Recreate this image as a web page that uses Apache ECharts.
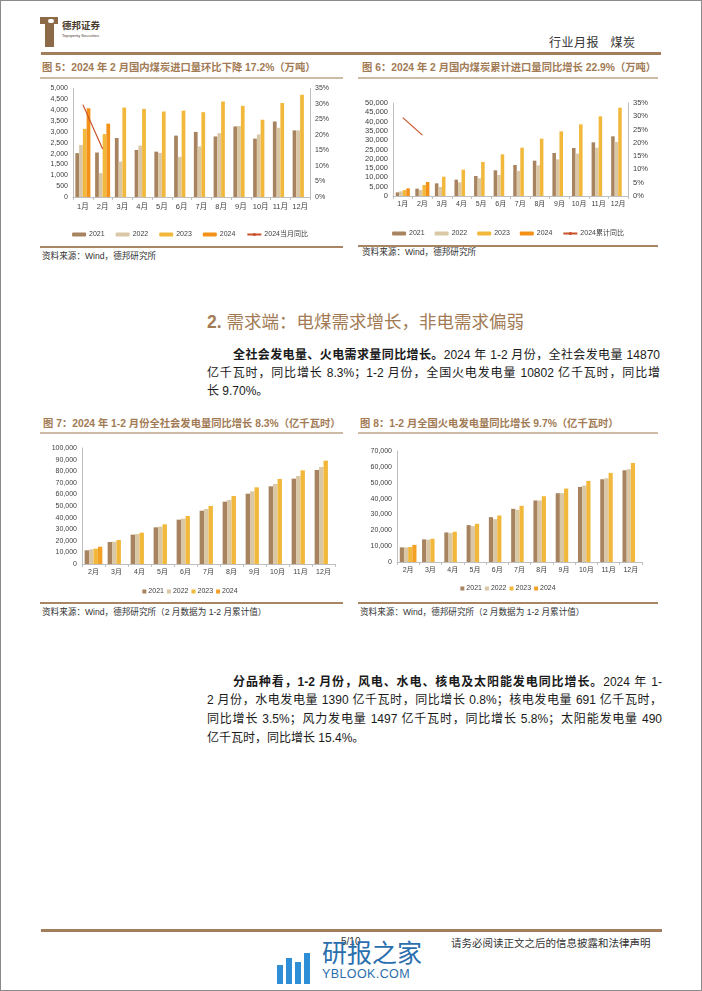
<!DOCTYPE html>
<html>
<head>
<meta charset="utf-8">
<script src="https://cdn.jsdelivr.net/npm/echarts@6/dist/echarts.min.js"></script>
<style>
body { margin: 0; width: 702px; height: 991px; position: relative; overflow: hidden; background: #fff;
       font-family: "Liberation Sans", "Noto Sans CJK SC", sans-serif; color: #1a1a1a; }
.abs { position: absolute; }
.frame { left: 0; top: 0; width: 702px; height: 991px; box-sizing: border-box; border: 1px solid #8a8a8a; }
.ttl { font-size: 10.3px; line-height: 14px; font-weight: bold; color: #a27b55; white-space: nowrap; }
.rule { height: 2px; background: #cdbba6; }
.srcrule { height: 1.5px; background: #a88664; }
.src { font-size: 8.6px; line-height: 12px; color: #333; white-space: nowrap; }
.ln { font-size: 12px; line-height: 18px; height: 18px; overflow: hidden; text-align: justify; text-align-last: justify; }
.ln.last { text-align: left; text-align-last: left; }
.hrule { height: 2.5px; background: #a47d5c; }
</style>
</head>
<body>
<div class="abs frame"></div>

<!-- header -->
<div class="abs" style="left:40px;top:17px;width:18px;height:7px;background:#8c6a48"></div>
<div class="abs" style="left:45px;top:24px;width:9px;height:23px;background:#8c6a48"></div>
<div class="abs" style="left:48px;top:19px;width:6px;height:4px;background:#fff;border-radius:2px"></div>
<div class="abs" style="left:62px;top:20px;font-size:9.5px;line-height:12px;font-weight:bold;color:#4a3a2c;white-space:nowrap">德邦证券</div>
<div class="abs" style="left:62px;top:33px;font-size:4px;line-height:5px;color:#4a3a2c;white-space:nowrap">Topsperity Securities</div>
<div class="abs" style="left:549px;top:36px;font-size:12px;line-height:14px;color:#333;white-space:nowrap;letter-spacing:0.5px">行业月报&nbsp;&nbsp;&nbsp;煤炭</div>
<div class="abs hrule" style="left:41px;top:52px;width:620px"></div>

<!-- figure 5 / 6 titles -->
<div class="abs ttl" style="left:42px;top:61px">图 5：2024 年 2 月国内煤炭进口量环比下降 17.2%（万吨）</div>
<div class="abs rule" style="left:40px;top:77px;width:303px"></div>
<div class="abs ttl" style="left:362px;top:61px">图 6：2024 年 2 月国内煤炭累计进口量同比增长 22.9%（万吨）</div>
<div class="abs rule" style="left:358px;top:77px;width:300px"></div>

<div id="fig5" class="abs" style="left:30px;top:82px;width:320px;height:160px"></div>
<div id="fig6" class="abs" style="left:358px;top:82px;width:300px;height:160px"></div>

<div class="abs srcrule" style="left:40px;top:246px;width:303px"></div>
<div class="abs src" style="left:42px;top:250px">资料来源：Wind，德邦研究所</div>
<div class="abs srcrule" style="left:358px;top:245px;width:300px"></div>
<div class="abs src" style="left:362px;top:246px">资料来源：Wind，德邦研究所</div>

<!-- section -->
<div class="abs" style="left:207px;top:309px;font-size:17.5px;line-height:26px;color:#a27b55;white-space:nowrap"><b>2.</b> 需求端：电煤需求增长，非电需求偏弱</div>

<div class="abs ln" style="left:233px;top:346px;width:427px"><b>全社会发电量、火电需求量同比增长。</b>2024 年 1-2 月份，全社会发电量 14870</div>
<div class="abs ln" style="left:207px;top:364px;width:453px">亿千瓦时，同比增长 8.3%；1-2 月份，全国火电发电量 10802 亿千瓦时，同比增</div>
<div class="abs ln last" style="left:207px;top:382px;width:453px">长 9.70%。</div>

<!-- figure 7 / 8 titles -->
<div class="abs ttl" style="left:43px;top:417px">图 7：2024 年 1-2 月份全社会发电量同比增长 8.3%（亿千瓦时）</div>
<div class="abs rule" style="left:40px;top:432px;width:303px"></div>
<div class="abs ttl" style="left:360px;top:417px">图 8：1-2 月全国火电发电量同比增长 9.7%（亿千瓦时）</div>
<div class="abs rule" style="left:358px;top:432px;width:300px"></div>

<div id="fig7" class="abs" style="left:30px;top:438px;width:320px;height:160px"></div>
<div id="fig8" class="abs" style="left:358px;top:438px;width:300px;height:160px"></div>

<div class="abs srcrule" style="left:40px;top:602px;width:303px"></div>
<div class="abs src" style="left:42px;top:606px">资料来源：Wind，德邦研究所（2 月数据为 1-2 月累计值）</div>
<div class="abs srcrule" style="left:358px;top:602px;width:300px"></div>
<div class="abs src" style="left:360px;top:606px">资料来源：Wind，德邦研究所（2 月数据为 1-2 月累计值）</div>

<div class="abs ln" style="left:233px;top:673px;width:429px"><b>分品种看，1-2 月份，风电、水电、核电及太阳能发电同比增长。</b>2024 年 1-</div>
<div class="abs ln" style="left:207px;top:691px;width:455px">2 月份，水电发电量 1390 亿千瓦时，同比增长 0.8%；核电发电量 691 亿千瓦时，</div>
<div class="abs ln" style="left:207px;top:710px;width:455px">同比增长 3.5%；风力发电量 1497 亿千瓦时，同比增长 5.8%；太阳能发电量 490</div>
<div class="abs ln last" style="left:207px;top:729px;width:455px">亿千瓦时，同比增长 15.4%。</div>

<!-- footer -->
<div class="abs hrule" style="left:41px;top:929px;width:621px"></div>
<div class="abs" style="left:341px;top:936px;font-size:10px;line-height:12px;color:#333">5/10</div>
<div class="abs" style="left:451px;top:937px;font-size:10.5px;line-height:13px;color:#333;white-space:nowrap">请务必阅读正文之后的信息披露和法律声明</div>
<div class="abs" style="left:277px;top:965px;width:6px;height:19px;background:#2f8fd6"></div>
<div class="abs" style="left:286px;top:958px;width:6px;height:26px;background:#2f8fd6"></div>
<div class="abs" style="left:295px;top:962px;width:6px;height:22px;background:#2f8fd6"></div>
<div class="abs" style="left:304px;top:953px;width:6px;height:31px;background:#2f8fd6"></div>
<div class="abs" style="left:322px;top:938px;font-size:25px;line-height:30px;color:#2b6fae;white-space:nowrap">研报之家</div>
<div class="abs" style="left:322px;top:967px;font-size:12.5px;line-height:15px;color:#2b6fae;white-space:nowrap;letter-spacing:0.4px">YBLOOK.COM</div>

<script>
// ---- data ----
const MONTHS_12 = ['1月', '2月', '3月', '4月', '5月', '6月', '7月', '8月', '9月', '10月', '11月', '12月'];
const MONTHS_11 = ['2月', '3月', '4月', '5月', '6月', '7月', '8月', '9月', '10月', '11月', '12月'];

// 图5 当月进口量（万吨）
const imp2021 = [2020, 2050, 2720, 2170, 2090, 2830, 3000, 2790, 3250, 2690, 3480, 3070];
const imp2022 = [2400, 1100, 1630, 2370, 2030, 1850, 2330, 2940, 3270, 2880, 3190, 3070];
const imp2023 = [3140, 2900, 4120, 4060, 3940, 3980, 3910, 4400, 4200, 3560, 4330, 4710];
const imp2024 = [4090, 3380];
const impYoy2024 = [29.8, 15.5];

// 图6 累计进口量（万吨）
const cum2021 = [1970, 3940, 6810, 8780, 10750, 13800, 16670, 19000, 23120, 25810, 28850, 32080];
const cum2022 = [2510, 3230, 4840, 7350, 9500, 11290, 13440, 16490, 19710, 22760, 25990, 29030];
const cum2023 = [3230, 5910, 10390, 14160, 18280, 22400, 25990, 30820, 34770, 38530, 42830, 47490];
const cum2024 = [4120, 7530];
const cumYoy2024 = [29.5, 22.9];

// 图7 全社会发电量（亿千瓦时）
const pow2021 = [11800, 18970, 25290, 31610, 38220, 45980, 53740, 60630, 66950, 73560, 81030];
const pow2022 = [12650, 19250, 25860, 32180, 39080, 47410, 55170, 62640, 68970, 75860, 83620];
const pow2023 = [13200, 20690, 27010, 34200, 41380, 50000, 58620, 66090, 73280, 80750, 89080];
const pow2024 = [14870];

// 图8 火电发电量（亿千瓦时）
const thermal2021 = [9220, 14250, 18650, 23260, 28300, 33540, 38780, 43390, 47370, 52190, 57850];
const thermal2022 = [9220, 14040, 18230, 22640, 27040, 32910, 38780, 43390, 48210, 52820, 58480];
const thermal2023 = [9430, 14670, 19070, 24100, 29340, 35420, 41500, 46320, 51140, 56170, 62460];
const thermal2024 = [10802];

const C2021 = '#a7835f';
const C2022 = '#d9c7a6';
const C2023 = '#f1b83c';
const LINE = '#c8502a';
const AXIS = '#bfbfbf';
const LABEL = '#404040';
const FONT = '"Liberation Sans", "Noto Sans CJK SC", sans-serif';

function thousands(v) {
    return v.toLocaleString('en-US');
}

function bar(name, data, color, gap) {
    return {
        name: name, type: 'bar', data: data, barGap: 0, barCategoryGap: gap,
        itemStyle: { color: color }, animation: false
    };
}

function valueAxis(max, interval, fontSize, fmt, pos) {
    return {
        type: 'value', min: 0, max: max, interval: interval, position: pos || 'left',
        axisLine: { show: true, lineStyle: { color: AXIS, width: 1 } },
        axisTick: { show: false },
        splitLine: { show: false },
        axisLabel: { fontSize: fontSize, color: LABEL, fontFamily: FONT, margin: 5, formatter: fmt }
    };
}

function catAxis(data, fontSize, margin) {
    return {
        type: 'category', data: data,
        axisLine: { lineStyle: { color: AXIS, width: 1 } },
        axisTick: { show: true, length: 3, lineStyle: { color: AXIS } },
        axisLabel: { fontSize: fontSize, color: LABEL, fontFamily: FONT, margin: margin, interval: 0 }
    };
}

// 图5
const fig5 = echarts.init(document.getElementById('fig5'));
fig5.setOption({
    animation: false,
    grid: { left: 43, right: 40, top: 6.5, bottom: 45 },
    legend: {
        top: 144, left: 'center', itemWidth: 14, itemHeight: 4, itemGap: 11,
        textStyle: { fontSize: 7, color: LABEL, fontFamily: FONT, padding: [0, 0, 0, -2] }
    },
    xAxis: catAxis(MONTHS_12, 7.5, 6),
    yAxis: [
        valueAxis(5000, 500, 7, thousands),
        valueAxis(35, 5, 7, '{value}%', 'right')
    ],
    series: [
        bar('2021', imp2021, C2021, '24%'),
        bar('2022', imp2022, C2022, '24%'),
        bar('2023', imp2023, C2023, '24%'),
        bar('2024', imp2024, '#f39119', '24%'),
        { name: '2024当月同比', type: 'line', yAxisIndex: 1, data: impYoy2024, symbol: 'none',
          lineStyle: { color: LINE, width: 1.2 }, itemStyle: { color: LINE } }
    ]
});

// 图6
const fig6 = echarts.init(document.getElementById('fig6'));
fig6.setOption({
    animation: false,
    grid: { left: 35, right: 30, top: 21, bottom: 46 },
    legend: {
        top: 143, left: 'center', itemWidth: 14, itemHeight: 4, itemGap: 10,
        textStyle: { fontSize: 7, color: LABEL, fontFamily: FONT, padding: [0, 0, 0, -2] }
    },
    xAxis: catAxis(MONTHS_12, 7, 5),
    yAxis: [
        valueAxis(50000, 5000, 7.5, thousands),
        valueAxis(35, 5, 7.5, '{value}%', 'right')
    ],
    series: [
        bar('2021', cum2021, C2021, '28%'),
        bar('2022', cum2022, C2022, '28%'),
        bar('2023', cum2023, C2023, '28%'),
        bar('2024', cum2024, '#f39119', '28%'),
        { name: '2024累计同比', type: 'line', yAxisIndex: 1, data: cumYoy2024, symbol: 'none',
          lineStyle: { color: LINE, width: 1.2 }, itemStyle: { color: LINE } }
    ]
});

// 图7
const fig7 = echarts.init(document.getElementById('fig7'));
fig7.setOption({
    animation: false,
    grid: { left: 52, right: 15, top: 10, bottom: 34 },
    legend: {
        top: 145, left: 'center', icon: 'rect', itemWidth: 4, itemHeight: 4, itemGap: 3,
        textStyle: { fontSize: 7, color: LABEL, fontFamily: FONT, padding: [0, 0, 0, -3] }
    },
    xAxis: catAxis(MONTHS_11, 7, 5),
    yAxis: valueAxis(100000, 10000, 7, thousands),
    series: [
        bar('2021', pow2021, C2021, '23%'),
        bar('2022', pow2022, C2022, '23%'),
        bar('2023', pow2023, C2023, '23%'),
        bar('2024', pow2024, '#f4a025', '23%')
    ]
});

// 图8
const fig8 = echarts.init(document.getElementById('fig8'));
fig8.setOption({
    animation: false,
    grid: { left: 39, right: 16, top: 13, bottom: 36 },
    legend: {
        top: 142, left: 'center', icon: 'rect', itemWidth: 4, itemHeight: 4, itemGap: 3,
        textStyle: { fontSize: 7, color: LABEL, fontFamily: FONT, padding: [0, 0, 0, -3] }
    },
    xAxis: catAxis(MONTHS_11, 7, 5),
    yAxis: valueAxis(70000, 10000, 7, thousands),
    series: [
        bar('2021', thermal2021, C2021, '25%'),
        bar('2022', thermal2022, C2022, '25%'),
        bar('2023', thermal2023, C2023, '25%'),
        bar('2024', thermal2024, '#f4a025', '25%')
    ]
});
</script>
</body>
</html>
